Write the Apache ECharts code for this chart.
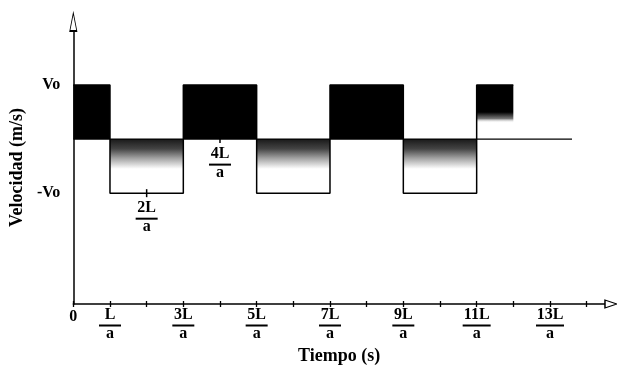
<!DOCTYPE html>
<html>
<head>
<meta charset="utf-8"/>
<title>Velocidad vs Tiempo</title>
<script src="https://cdn.jsdelivr.net/npm/echarts@6/dist/echarts.min.js"></script>
<style>
  html, body { margin: 0; padding: 0; background: #fff; }
  #main { width: 617px; height: 370px; }
</style>
</head>
<body>
<div id="main"></div>
<script type="text/javascript">
    // instantes de cambio (en L/a) y velocidad de cada tramo (en Vo)
    var switchTimes = [0, 1, 3, 5, 7, 9, 11, 12];
    var velocity = [1, -1, 1, -1, 1, -1, 1, 1];
    var fillKind = ['solid', 'shade', 'solid', 'shade', 'solid', 'shade', 'fade'];
    var zeroLine = [[0, 0], [13.6, 0]];
    var xLabelValues = [0, 1, 3, 5, 7, 9, 11, 13];
    var xLabelText = ['0', 'L', '3L', '5L', '7L', '9L', '11L', '13L'];
    var yLabelValues = [-1, 1];
    var yLabelText = ['-Vo', 'Vo'];
    var notes = [[2, -1, '2L'], [4, 0, '4L']];

    var SERIF = "'Liberation Serif', 'Times New Roman', serif";

    var blocks = [];
    for (var i = 0; i < switchTimes.length - 1; i++) {
        blocks.push([switchTimes[i], switchTimes[i + 1], velocity[i]]);
    }
    var wave = switchTimes.map(function (t, i) { return [t, velocity[i]]; });

    var fracRich = {
        n: {fontFamily: SERIF, fontWeight: 'bold', fontSize: 16, lineHeight: 18, color: '#000'},
        b1: {width: 22, height: 2, lineHeight: 3, fontSize: 1, backgroundColor: '#000'},
        b2: {width: 28, height: 2, lineHeight: 3, fontSize: 1, backgroundColor: '#000'},
        d: {fontFamily: SERIF, fontWeight: 'bold', fontSize: 16, lineHeight: 14, color: '#000'},
        z: {fontFamily: SERIF, fontWeight: 'bold', fontSize: 16, lineHeight: 22, color: '#000'}
    };
    function frac(num) {
        if (num === '0') return '{z|0}';
        var bar = num.length > 2 ? 'b2' : 'b1';
        return '{n|' + num + '}\n{' + bar + '| }\n{d|a}';
    }

    function fillFor(kind) {
        if (kind === 'solid') return '#000';
        if (kind === 'shade') {
            return new echarts.graphic.LinearGradient(0, 0, 0, 1, [
                {offset: 0, color: '#1a1a1a'},
                {offset: 0.18, color: '#444'},
                {offset: 0.35, color: '#a0a0a0'},
                {offset: 0.55, color: '#ffffff'},
                {offset: 1, color: '#ffffff'}
            ]);
        }
        return new echarts.graphic.LinearGradient(0, 0, 0, 1, [
            {offset: 0, color: '#000'},
            {offset: 0.5, color: '#000'},
            {offset: 0.62, color: '#777'},
            {offset: 0.7, color: 'rgba(255,255,255,0)'},
            {offset: 1, color: 'rgba(255,255,255,0)'}
        ]);
    }

    var myChart = echarts.init(document.getElementById('main'));
    var option = {
        backgroundColor: '#fff',
        animation: false,
        grid: {left: 73, right: 12, top: 31, bottom: 66},
        xAxis: [{
            type: 'value',
            min: 0,
            max: 14.5,
            interval: 1,
            name: 'Tiempo (s)',
            nameLocation: 'middle',
            nameGap: 43,
            nameTextStyle: {fontFamily: SERIF, fontWeight: 'bold', fontSize: 18, color: '#000'},
            axisLine: {onZero: false, lineStyle: {color: '#000', width: 1.5}},
            axisTick: {length: 3, lineStyle: {color: '#000', width: 1.3}},
            splitLine: {show: false},
            axisLabel: {
                customValues: xLabelValues,
                margin: 2,
                formatter: function (v) { return frac(xLabelText[xLabelValues.indexOf(v)]); },
                rich: fracRich
            }
        }, {
            type: 'value',
            min: 0,
            max: 14.5,
            interval: 1,
            position: 'bottom',
            axisLine: {show: false, onZero: false},
            axisTick: {inside: true, length: 3, lineStyle: {color: '#000', width: 1.3}},
            axisLabel: {show: false},
            splitLine: {show: false}
        }],
        yAxis: {
            type: 'value',
            min: -3.05,
            max: 2,
            name: 'Velocidad (m/s)',
            nameLocation: 'middle',
            nameGap: 43,
            nameRotate: 90,
            nameTextStyle: {fontFamily: SERIF, fontWeight: 'bold', fontSize: 18, color: '#000'},
            axisLine: {show: true, onZero: false, lineStyle: {color: '#000', width: 1.5}},
            axisTick: {show: false},
            splitLine: {show: false},
            axisLabel: {
                customValues: yLabelValues,
                margin: 13,
                fontFamily: SERIF,
                fontWeight: 'bold',
                fontSize: 16,
                color: '#000',
                formatter: function (v) { return yLabelText[yLabelValues.indexOf(v)]; }
            }
        },
        series: [{
            name: 'bloques',
            type: 'custom',
            z: 2,
            encode: {x: [0, 1], y: 2},
            renderItem: function (params, api) {
                var p0 = api.coord([api.value(0), 0]);
                var p1 = api.coord([api.value(1), api.value(2)]);
                return {
                    type: 'rect',
                    shape: {
                        x: p0[0],
                        y: Math.min(p0[1], p1[1]),
                        width: p1[0] - p0[0],
                        height: Math.abs(p1[1] - p0[1])
                    },
                    style: {fill: fillFor(fillKind[params.dataIndex]), stroke: null}
                };
            },
            data: blocks
        }, {
            name: 'onda',
            type: 'line',
            z: 3,
            step: 'end',
            symbol: 'none',
            lineStyle: {color: '#000', width: 1.5},
            data: wave
        }, {
            name: 'cero',
            type: 'line',
            z: 3,
            symbol: 'none',
            lineStyle: {color: '#000', width: 1.3},
            data: zeroLine
        }, {
            name: 'notas',
            type: 'scatter',
            z: 4,
            symbol: 'rect',
            symbolSize: [1.5, 8],
            itemStyle: {color: '#000', opacity: 1},
            label: {
                show: true,
                position: 'bottom',
                distance: 2,
                color: '#000',
                fontFamily: SERIF,
                fontWeight: 'bold',
                formatter: function (p) { return frac(p.data[2]); },
                rich: fracRich
            },
            data: notes
        }, {
            name: 'flecha y',
            type: 'scatter',
            z: 5,
            clip: false,
            symbol: 'triangle',
            symbolSize: [7, 18],
            symbolOffset: [0, -9],
            itemStyle: {color: '#fff', borderColor: '#000', borderWidth: 1.2, opacity: 1},
            data: [[0, 2]]
        }, {
            name: 'flecha x',
            type: 'scatter',
            z: 5,
            clip: false,
            symbol: 'triangle',
            symbolSize: [8, 12],
            symbolRotate: -90,
            symbolOffset: [6, 0],
            itemStyle: {color: '#fff', borderColor: '#000', borderWidth: 1.2, opacity: 1},
            data: [[14.5, -3.05]]
        }]
    };
    myChart.setOption(option);
</script>
</body>
</html>
